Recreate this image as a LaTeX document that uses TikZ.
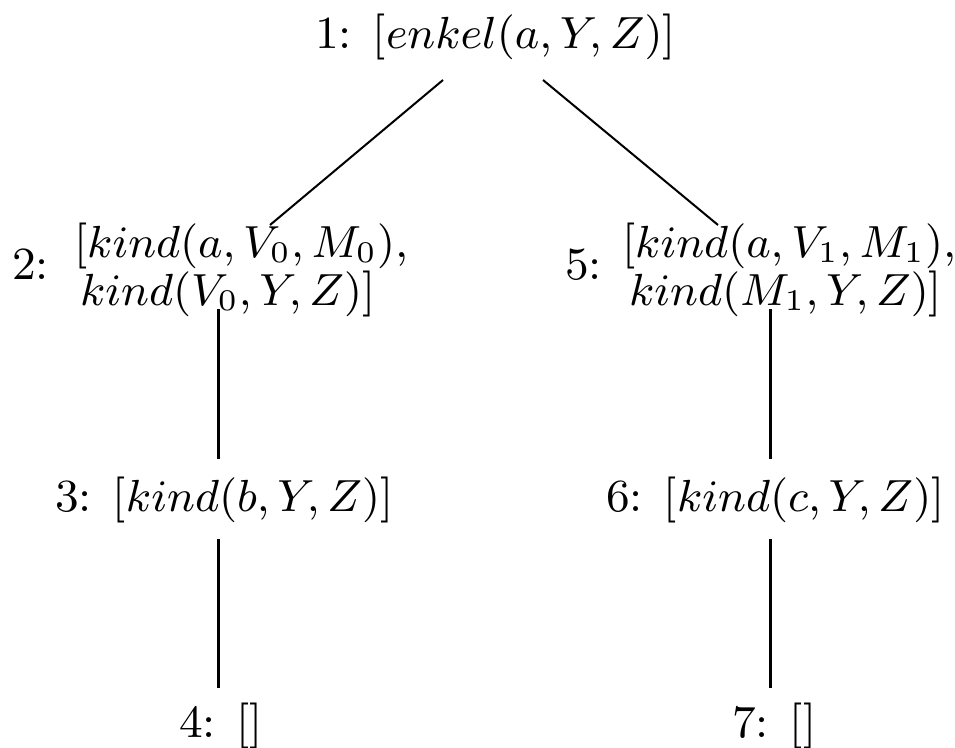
\documentclass[tikz,border=0pt]{standalone}
\begin{document}
\begin{tikzpicture}[x=0.2pt,y=-0.2pt,
  lbl/.style={anchor=base west,inner sep=0pt,outer sep=0pt,font=\fontsize{9.2}{11}\selectfont},
  diag/.style={line width=0.4pt},
  vert/.style={line width=0.6pt}]
\useasboundingbox (0,0) rectangle (955,747);
\node[lbl] (n1) at (315,49) {1: [$enkel(a,Y,Z)$]};
\node[lbl] (n2) at (12,279) {2:};
\node[lbl] (n2a) at (74,257) {[$kind(a,V_0,M_0)$,};
\node[lbl] (n2b) at (80,305) {$kind(V_0,Y,Z)$]};
\node[lbl] (n5) at (565,279) {5:};
\node[lbl] (n5a) at (622,257) {[$kind(a,V_1,M_1)$,};
\node[lbl] (n5b) at (629,305) {$kind(M_1,Y,Z)$]};
\node[lbl] (n3) at (55,511) {3: [$kind(b,Y,Z)$]};
\node[lbl] (n6) at (606,511) {6: [$kind(c,Y,Z)$]};
\node[lbl] (n4) at (179,737) {4: []};
\node[lbl] (n7) at (732,737) {7: []};
\coordinate (a1) at (443,80);
\coordinate (a2) at (270,225);
\coordinate (b1) at (543,80);
\coordinate (b2) at (718,225);
\coordinate (v2t) at (218,309);
\coordinate (v3b) at (218,459);
\coordinate (v3t) at (218,539);
\coordinate (v4b) at (218,688);
\coordinate (w5t) at (770,309);
\coordinate (w6b) at (770,459);
\coordinate (w6t) at (770,539);
\coordinate (w7b) at (770,688);
\draw[diag] (a1) -- (a2);
\draw[diag] (b1) -- (b2);
\draw[vert] (v2t) -- (v3b);
\draw[vert] (v3t) -- (v4b);
\draw[vert] (w5t) -- (w6b);
\draw[vert] (w6t) -- (w7b);
\end{tikzpicture}
\end{document}
